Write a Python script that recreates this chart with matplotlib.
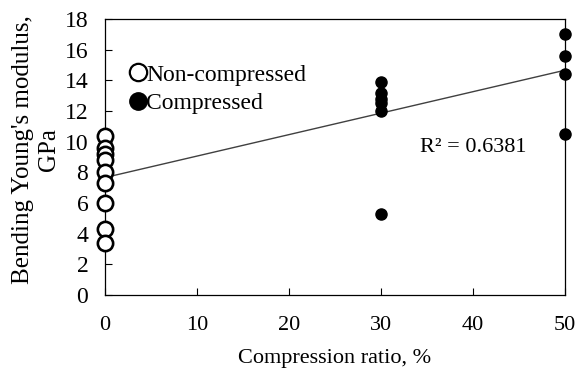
import matplotlib
matplotlib.use("Agg")
import matplotlib.pyplot as plt
from matplotlib.lines import Line2D

plt.rcParams['font.family'] = ['Liberation Serif', 'DejaVu Serif']

# Data
noncomp_x = [0, 0, 0, 0, 0, 0, 0, 0, 0]
noncomp_y = [10.4, 9.6, 9.2, 8.8, 8.0, 7.3, 6.0, 4.3, 3.4]
comp_x = [30, 30, 30, 30, 30, 30, 50, 50, 50, 50]
comp_y = [13.9, 13.2, 12.8, 12.5, 12.0, 5.3, 17.0, 15.6, 14.4, 10.5]
trend_intercept = 7.66
trend_slope = 0.140
trend_x = [0, 50]
r2_text = "R² = 0.6381"
x_ticks = [0, 10, 20, 30, 40, 50]
y_ticks = [0, 2, 4, 6, 8, 10, 12, 14, 16, 18]

fig = plt.figure(figsize=(5.77, 3.71), dpi=100)
ax = fig.add_axes([105/577, 1-295/371, 460/577, 276/371])

ty = [trend_intercept + trend_slope * x for x in trend_x]
ax.plot(trend_x, ty, color='#404040', lw=1.0, zorder=1)

ax.plot(noncomp_x, noncomp_y, linestyle='none', marker='o', markersize=11,
        markerfacecolor='white', markeredgecolor='black', markeredgewidth=1.9, zorder=3,
        clip_on=False)
ax.plot(comp_x, comp_y, linestyle='none', marker='o', markersize=8,
        markerfacecolor='black', markeredgecolor='black', zorder=3, clip_on=False)

ax.set_xlim(0, 50)
ax.set_ylim(0, 18)
ax.set_xticks(x_ticks)
ax.set_yticks(y_ticks)
ax.tick_params(direction='in', length=5, width=0.8, top=False, right=False)
ax.tick_params(axis='x', pad=15, labelsize=16)
ax.tick_params(axis='y', pad=12, labelsize=17)
for s in ax.spines.values():
    s.set_linewidth(0.9)

ax.set_xlabel("Compression ratio, %", fontsize=16)
ax.xaxis.set_label_coords(0.5, -(349 - 295) / 276)
ax.set_ylabel("Bending Young's modulus,\nGPa", fontsize=18, linespacing=1.25)
ax.yaxis.set_label_coords((60 - 105) / 460, (295 - 150) / 276)

ax.text(420/577, 1-147/371, r2_text, transform=fig.transFigure, fontsize=16,
        va='center', ha='left')

handles = [Line2D([], [], linestyle='none', marker='o', markersize=12.5,
                  markerfacecolor='white', markeredgecolor='black', markeredgewidth=1.6),
           Line2D([], [], linestyle='none', marker='o', markersize=12.5,
                  markerfacecolor='black', markeredgecolor='black')]
leg = ax.legend(handles, ["Non-compressed", "Compressed"], loc='upper left',
                bbox_to_anchor=(131/577, 1-64/371), bbox_transform=fig.transFigure,
                frameon=False, fontsize=17, handlelength=0.6, handletextpad=0.05,
                labelspacing=0.3, borderaxespad=0, borderpad=0)

fig.savefig("out.png", dpi=100)
